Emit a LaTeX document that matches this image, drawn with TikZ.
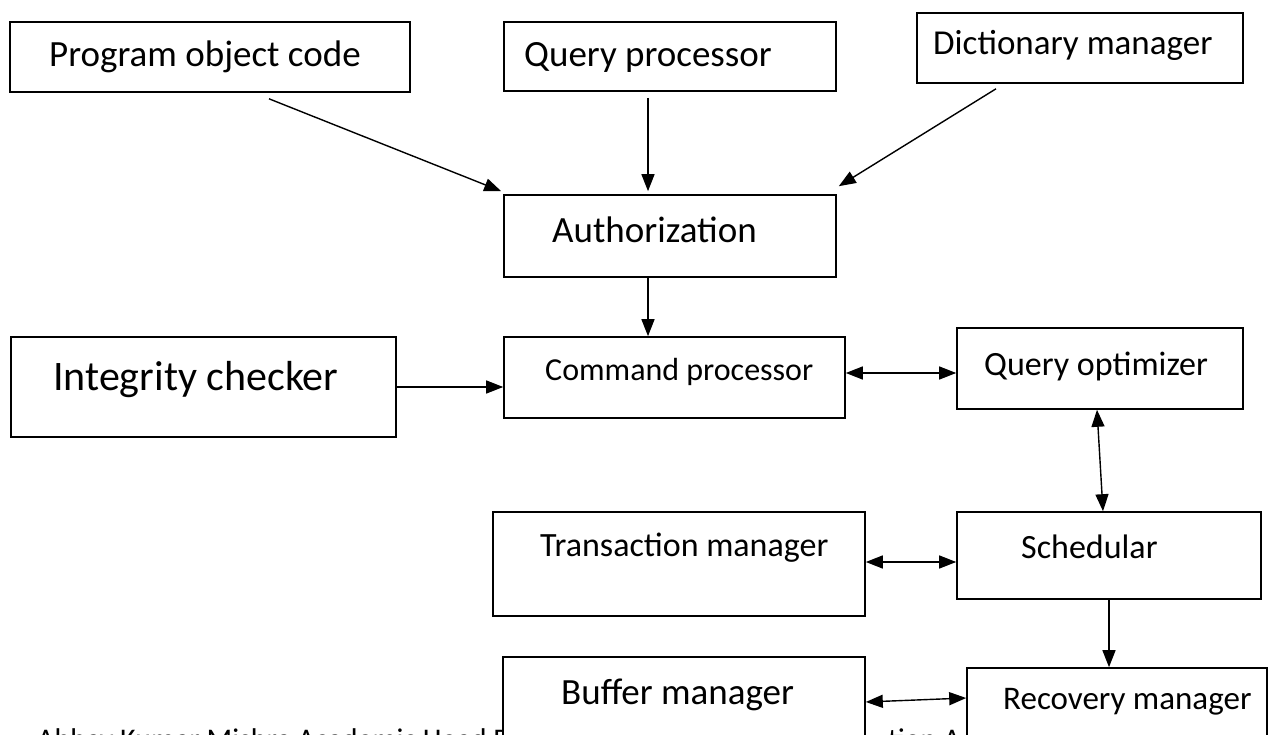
\documentclass[tikz,border=0pt]{standalone}
\usepackage{fontspec}
\setmainfont{Carlito}
\usetikzlibrary{arrows.meta,calc}
\tikzset{
  box/.style={draw=black, fill=white, line width=1.6pt, rectangle, inner sep=0pt, minimum width=#1},
  lbl/.style={anchor=base west, inner sep=0pt, text=black},
  arr/.style={line width=1.4pt, -{Triangle[length=17pt,width=13pt]}},
  darr/.style={line width=1.4pt, {Triangle[length=17pt,width=13pt]}-{Triangle[length=17pt,width=13pt]}},
}
\newcommand{\fs}[1]{\fontsize{#1pt}{#1pt}\selectfont}
\begin{document}
\begin{tikzpicture}[x=1pt,y=-1pt]
\useasboundingbox (0,0) rectangle (1275,735);
\clip (0,0) rectangle (1275,735);
\fill[white] (0,0) rectangle (1275,735);
% partly hidden footer text
\node[lbl] (foot1) at (37,749) {\fs{30}Abhay Kumar Mishra Academic Head P};
\node[lbl] (foot2) at (888,749) {\fs{30}tion A};
% boxes
\node[box=400pt, minimum height=70pt] (prog) at (210,57) {};
\node[box=332pt, minimum height=69pt] (query) at (670,56.5) {};
\node[box=326pt, minimum height=70pt] (dict) at (1080,48) {};
\node[box=332pt, minimum height=82pt] (auth) at (670,236) {};
\node[box=385pt, minimum height=100pt] (integ) at (203.5,387) {};
\node[box=341pt, minimum height=81pt] (cmd) at (674.5,377.5) {};
\node[box=286pt, minimum height=81pt] (qopt) at (1100,368.5) {};
\node[box=372pt, minimum height=104pt] (tm) at (679,564) {};
\node[box=304pt, minimum height=87pt] (sched) at (1109,555.5) {};
\node[box=362pt, minimum height=100pt] (buffer) at (684,707) {};
\node[box=300pt, minimum height=90pt] (recov) at (1117,713) {};
% labels
\node[lbl] (tprog) at (49,67) {\fs{37}Program object code};
\node[lbl] (tquery) at (524,67) {\fs{37}Query processor};
\node[lbl] (tdict) at (933,55) {\fs{35}Dictionary manager};
\node[lbl] (tauth) at (552,243) {\fs{37}Authorization};
\node[lbl] (tinteg) at (53,391) {\fs{42}Integrity checker};
\node[lbl] (tcmd) at (545,381) {\fs{32}Command processor};
\node[lbl] (tqopt) at (984,376) {\fs{34}Query optimizer};
\node[lbl] (ttm) at (540,556) {\fs{34}Transaction manager};
\node[lbl] (tsched) at (1021,558) {\fs{34}Schedular};
\node[lbl] (tbuffer) at (561,704) {\fs{37}Buffer manager};
\node[lbl] (trecov) at (1003,709) {\fs{33}Recovery manager};
% connectors
\draw[arr] ([xshift=59pt,yshift=-6pt]prog.south) -- ([xshift=-2pt,yshift=3pt]auth.north west);
\draw[arr] ([xshift=-22pt,yshift=-6pt]query.south) -- ([xshift=-22pt,yshift=3pt]auth.north);
\draw[arr] ([xshift=-84pt,yshift=-5pt]dict.south) -- ([xshift=2pt,yshift=8pt]auth.north east);
\draw[arr] ([xshift=-22pt]auth.south) -- ([xshift=-26.5pt]cmd.north);
\draw[arr] (integ.east) -- (integ.east -| cmd.west);
\draw[darr] ([yshift=4.5pt]cmd.east) -- ([yshift=-4.5pt]qopt.west);
\draw[darr] ([xshift=-3pt]qopt.south) -- ([xshift=-6pt]sched.north);
\draw[darr] ([yshift=2pt]tm.east) -- ([yshift=-6.5pt]sched.west);
\draw[arr] (sched.south) -- (sched.south |- recov.north);
\draw[darr] ([yshift=5pt]buffer.east) -- ([yshift=15pt]recov.west);
\end{tikzpicture}
\end{document}
